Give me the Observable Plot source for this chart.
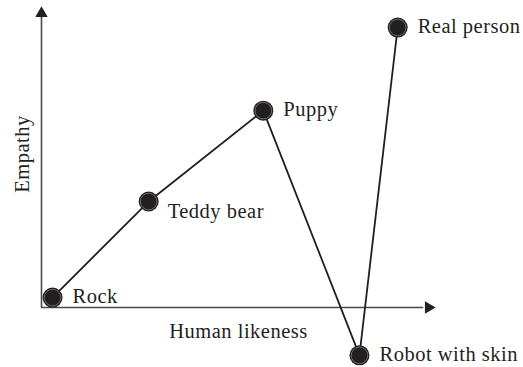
<!DOCTYPE html>
<html>
<head>
<meta charset="utf-8">
<script src="https://cdn.jsdelivr.net/npm/d3@7"></script>
<script src="https://cdn.jsdelivr.net/npm/@observablehq/plot@0.6"></script>
<style>
  html, body { margin: 0; padding: 0; background: #fff; }
  #chart svg { display: block; }
  #chart svg text { letter-spacing: 0.5px; }
</style>
</head>
<body>
<div id="chart"></div>
<script>
const names = ["Rock", "Teddy bear", "Puppy", "Robot with skin", "Real person"];
const likeness = [2.8, 27.2, 56.3, 80.7, 90.4];
const empathy = [3.3, 35.2, 65.4, -15.9, 93.0];
const xLabel = "Human likeness";
const yLabel = "Empathy";

const data = names.map((n, i) => ({name: n, x: likeness[i], y: empathy[i]}));
const ink = "#231f20";
const axisInk = "#4a4a4a";
const font = "'Liberation Serif', 'DejaVu Serif', serif";
const fs = 20.5;

const chart = Plot.plot({
  width: 523,
  height: 367,
  marginLeft: 41,
  marginRight: 88,
  marginTop: 6,
  marginBottom: 60,
  x: {domain: [0, 100], axis: null},
  y: {domain: [0, 100], axis: null},
  style: {fontFamily: font, fontSize: fs + "px", color: ink, background: "#fff"},
  marks: [
    // axes with arrows
    Plot.ruleY([0], {x1: 0, x2: 97, stroke: axisInk, strokeWidth: 1.6}),
    Plot.ruleX([0], {y1: 0, y2: 97, stroke: axisInk, strokeWidth: 1.6}),
    Plot.dot([0], {x: 100, y: 0, symbol: "triangle", r: 4.6, rotate: 90, dx: -7, fill: ink, stroke: "none"}),
    Plot.dot([0], {x: 0, y: 100, symbol: "triangle", r: 4.6, dy: 7, fill: ink, stroke: "none"}),
    // axis labels
    Plot.text([xLabel], {x: 50, y: 0, text: d => d, dy: 24, fill: ink, textAnchor: "middle", fontSize: fs}),
    Plot.text([yLabel], {x: 0, y: 51, text: d => d, dx: -19, rotate: -90, fill: ink, textAnchor: "middle", fontSize: fs}),
    // connecting line
    Plot.line(data, {x: "x", y: "y", stroke: ink, strokeWidth: 1.8}),
    // dots
    Plot.dot(data, {x: "x", y: "y", r: 10, fill: ink, stroke: "none"}),
    Plot.dot(data, {x: "x", y: "y", r: 8.3, fill: "none", stroke: "#8a8a8a", strokeWidth: 0.7}),
    // labels
    Plot.text(data.filter(d => d.name !== "Teddy bear"), {x: "x", y: "y", text: "name", dx: 20, dy: -1, textAnchor: "start", fill: ink, fontSize: fs}),
    Plot.text(data.filter(d => d.name === "Teddy bear"), {x: "x", y: "y", text: "name", dx: 19, dy: 10, textAnchor: "start", fill: ink, fontSize: fs})
  ]
});
document.getElementById("chart").appendChild(chart);
</script>
</body>
</html>
